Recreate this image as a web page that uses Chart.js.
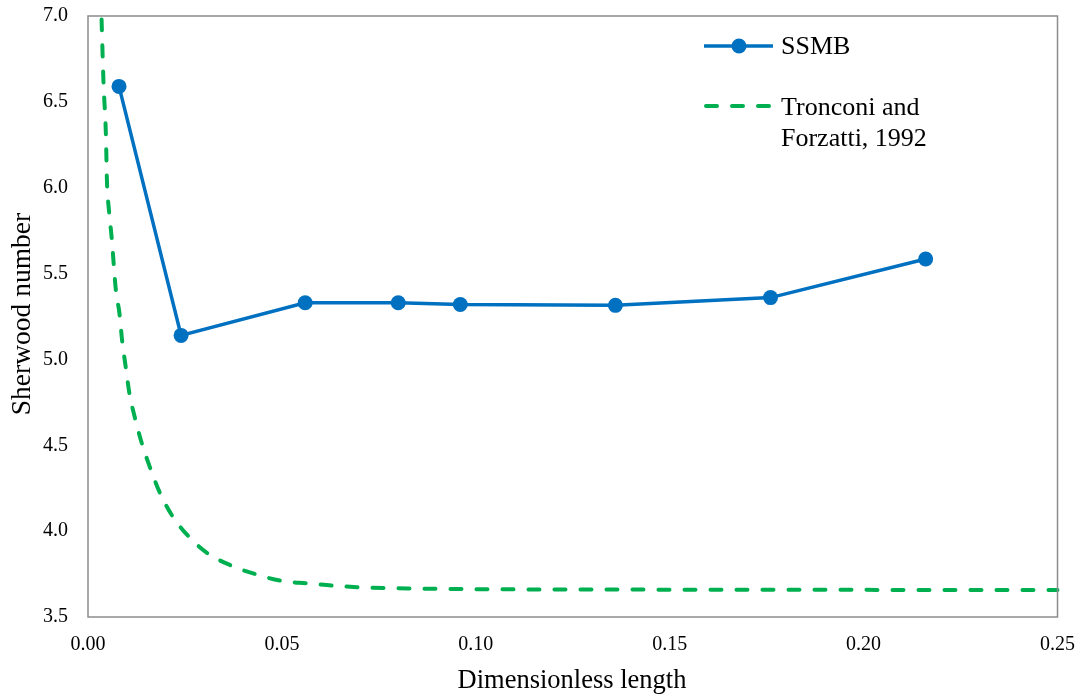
<!DOCTYPE html>
<html>
<head>
<meta charset="utf-8">
<script src="https://cdn.jsdelivr.net/npm/chart.js@4"></script>
<style>
html,body{margin:0;padding:0;background:#fff;}
#wrap{width:1080px;height:697px;position:relative;overflow:hidden;}
#c{position:absolute;left:0;top:-16px;}
</style>
</head>
<body>
<div id="wrap"><canvas id="c" width="1091" height="713"></canvas></div>
<script>
// SSMB data
const ssmbX = [0.008, 0.024, 0.056, 0.080, 0.096, 0.136, 0.176, 0.216];
const ssmbY = [6.59, 5.14, 5.33, 5.33, 5.32, 5.315, 5.36, 5.585];
// Tronconi and Forzatti, 1992
const tfX = [0.0035,0.0040,0.0046,0.0049,0.0054,0.0061,0.0072,0.0081,0.0088,0.0097,0.0107,0.0121,0.0139,0.0160,0.0186,0.0217,0.0259,0.0309,0.0369,0.0431,0.0500,0.0567,0.0633,0.0702,0.0835,0.1000,0.1300,0.2500];
const tfY = [6.98,6.61,6.32,6.03,5.87,5.71,5.40,5.27,5.11,4.96,4.80,4.66,4.51,4.37,4.22,4.09,3.97,3.87,3.80,3.75,3.71,3.696,3.682,3.673,3.666,3.662,3.660,3.657];
const seriesNames = ['SSMB', 'Tronconi and', 'Forzatti, 1992'];
const xTitle = 'Dimensionless length';
const yTitle = 'Sherwood number';

const BLUE = '#0070C0', GREEN = '#00B050';
const FONT = "'Liberation Serif', 'Times New Roman', serif";
const OFF = 16; // canvas vertical offset

const framePlugin = {
  id: 'frame',
  afterDraw(chart) {
    const {ctx, chartArea: a} = chart;
    ctx.save();
    ctx.strokeStyle = '#8c8c8c';
    ctx.lineWidth = 1.5;
    ctx.strokeRect(a.left, a.top, a.right - a.left, a.bottom - a.top);
    ctx.translate(0, OFF);
    // legend
    ctx.lineCap = 'butt';
    ctx.strokeStyle = BLUE; ctx.lineWidth = 3.5;
    ctx.beginPath(); ctx.moveTo(704, 46); ctx.lineTo(773, 46); ctx.stroke();
    ctx.fillStyle = BLUE;
    ctx.beginPath(); ctx.arc(739, 46, 7.5, 0, Math.PI * 2); ctx.fill();
    ctx.strokeStyle = GREEN; ctx.lineWidth = 4; ctx.lineCap = 'round';
    ctx.setLineDash([11, 15]);
    ctx.beginPath(); ctx.moveTo(706, 106); ctx.lineTo(772, 106); ctx.stroke();
    ctx.setLineDash([]);
    ctx.fillStyle = '#000';
    ctx.font = '26px ' + FONT;
    ctx.textBaseline = 'middle';
    ctx.textAlign = 'left';
    ctx.fillText(seriesNames[0], 781, 47);
    ctx.fillText(seriesNames[1], 781, 108);
    ctx.fillText(seriesNames[2], 781, 139);
    // axis titles
    ctx.textAlign = 'center';
    ctx.font = '26.5px ' + FONT;
    ctx.fillText(xTitle, 572, 681);
    ctx.font = '27.5px ' + FONT;
    ctx.translate(23, 314);
    ctx.rotate(-Math.PI / 2);
    ctx.fillText(yTitle, 0, 0);
    ctx.restore();
  }
};

new Chart(document.getElementById('c'), {
  type: 'line',
  data: {
    datasets: [
      {
        label: 'SSMB',
        data: ssmbX.map((x, i) => ({x, y: ssmbY[i]})),
        borderColor: BLUE,
        backgroundColor: BLUE,
        borderWidth: 3.5,
        pointRadius: 7.5,
        pointHoverRadius: 7.5,
        pointBorderWidth: 0,
        tension: 0,
        order: 1
      },
      {
        label: 'Tronconi and Forzatti, 1992',
        data: tfX.map((x, i) => ({x, y: tfY[i]})),
        borderColor: GREEN,
        borderWidth: 4,
        borderDash: [11, 15],
        borderCapStyle: 'round',
        pointRadius: 0,
        cubicInterpolationMode: 'monotone',
        fill: false,
        clip: false,
        order: 2
      }
    ]
  },
  options: {
    responsive: false,
    animation: false,
    layout: {padding: {left: 0, right: 20, top: 0, bottom: 0}},
    plugins: {legend: {display: false}, tooltip: {enabled: false}},
    scales: {
      x: {
        type: 'linear',
        min: 0, max: 0.25,
        grid: {display: false, drawTicks: false},
        border: {display: false},
        ticks: {
          stepSize: 0.05,
          padding: 16,
          color: '#000',
          font: {family: FONT, size: 20},
          callback: v => Number(v).toFixed(2)
        },
        afterFit: s => { s.height = 80; }
      },
      y: {
        min: 3.5, max: 7.0,
        grid: {display: false, drawTicks: false},
        border: {display: false},
        ticks: {
          stepSize: 0.5,
          padding: 20,
          color: '#000',
          font: {family: FONT, size: 20},
          callback: v => Number(v).toFixed(1)
        },
        afterFit: s => { s.width = 88; }
      }
    }
  },
  plugins: [framePlugin]
});
</script>
</body>
</html>
